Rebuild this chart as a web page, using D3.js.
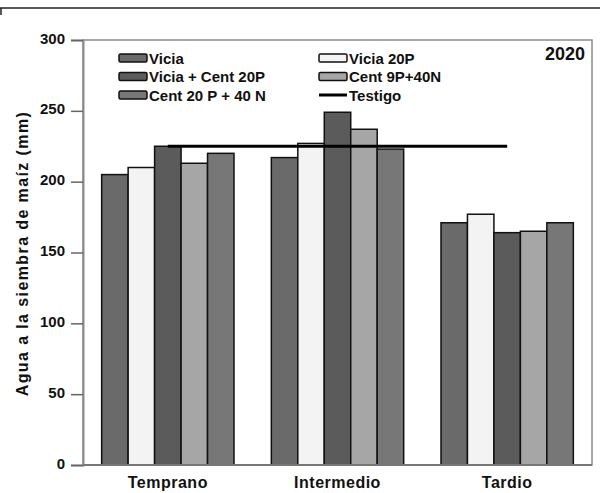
<!DOCTYPE html>
<html>
<head>
<meta charset="utf-8">
<script src="https://cdn.jsdelivr.net/npm/d3@7"></script>
<style>
  body { margin: 0; background: #fff; }
  svg { font-family: "Liberation Sans", Arial, sans-serif; font-weight: bold; }
</style>
</head>
<body>
<div id="chart"></div>
<script>
// Data (2020)
const categories = ["Temprano", "Intermedio", "Tardio"];
const series = ["Vicia", "Vicia 20P", "Vicia + Cent 20P", "Cent 9P+40N", "Cent 20 P + 40 N"];
const seriesColors = ["#6a6a6a", "#f3f3f3", "#5b5b5b", "#a6a6a6", "#777777"];
const values = {
	"Vicia": [205, 217, 171],
	"Vicia 20P": [210, 227, 177],
	"Vicia + Cent 20P": [225, 249, 164],
	"Cent 9P+40N": [213, 237, 165],
	"Cent 20 P + 40 N": [220, 223, 171],
};
const testigo = [225, 225, 225];
const yTicks = [0, 50, 100, 150, 200, 250, 300];

const width = 600, height = 493;
const margin = { top: 40, left: 83, right: 8, bottom: 28 };

const svg = d3.select("#chart").append("svg")
	.attr("width", width)
	.attr("height", height);

// frame line at the very top of the picture
svg.append("line")
	.attr("x1", 0).attr("x2", width)
	.attr("y1", 8).attr("y2", 8)
	.attr("stroke", "#222").attr("stroke-width", 1.5);
svg.append("line")
	.attr("x1", 1).attr("x2", 1)
	.attr("y1", 8).attr("y2", 15)
	.attr("stroke", "#222").attr("stroke-width", 1.5);

const x0 = d3.scaleBand()
	.domain(categories)
	.range([margin.left, width - margin.right])
	.paddingInner(0.22)
	.paddingOuter(0.11);

const x1 = d3.scaleBand()
	.domain(series)
	.range([0, x0.bandwidth()]);

const y = d3.scaleLinear()
	.domain([0, 300])
	.range([height - margin.bottom, margin.top]);

const color = d3.scaleOrdinal().domain(series).range(seriesColors);

// plot border
svg.append("rect")
	.attr("x", margin.left)
	.attr("y", margin.top)
	.attr("width", width - margin.left - margin.right)
	.attr("height", y(0) - margin.top)
	.attr("fill", "none")
	.attr("stroke", "#8c8c8c")
	.attr("stroke-width", 1.5);

// bars
const groups = svg.append("g")
	.selectAll("g")
	.data(categories)
	.join("g")
	.attr("transform", (d) => `translate(${x0(d)},0)`);

groups.selectAll("rect")
	.data((d, i) => series.map((s) => ({ key: s, value: values[s][i] })))
	.join("rect")
	.attr("x", (d) => x1(d.key))
	.attr("y", (d) => y(d.value))
	.attr("width", x1.bandwidth())
	.attr("height", (d) => y(0) - y(d.value))
	.attr("fill", (d) => color(d.key))
	.attr("stroke", "#111")
	.attr("stroke-width", 1.5);

// Testigo line
const line = d3.line()
	.x((d, i) => x0(categories[i]) + x0.bandwidth() / 2)
	.y((d) => y(d));
svg.append("path")
	.attr("d", line(testigo))
	.attr("fill", "none")
	.attr("stroke", "#000")
	.attr("stroke-width", 3);

// Y axis
const yAxis = svg.append("g")
	.attr("transform", `translate(${margin.left},0)`)
	.call(d3.axisLeft(y).tickValues(yTicks).tickSize(12).tickPadding(6));
yAxis.select(".domain").attr("stroke", "#8c8c8c").attr("stroke-width", 2);
yAxis.selectAll(".tick line").attr("stroke", "#666").attr("stroke-width", 1.5);
yAxis.selectAll("text")
	.attr("fill", "#111")
	.attr("dy", "0.2em")
	.style("font-size", "15px")
	.style("font-weight", "bold")
	.style("font-family", "Liberation Sans, Arial, sans-serif");

// bottom axis line and labels
svg.append("line")
	.attr("x1", margin.left).attr("x2", width - margin.right)
	.attr("y1", y(0)).attr("y2", y(0))
	.attr("stroke", "#777").attr("stroke-width", 2);

svg.append("g")
	.selectAll("text")
	.data(categories)
	.join("text")
	.attr("x", (d) => x0(d) + x0.bandwidth() / 2)
	.attr("y", y(0) + 23)
	.attr("text-anchor", "middle")
	.style("font-size", "16px")
	.style("letter-spacing", "0.5px")
	.attr("fill", "#111")
	.text((d) => d);

// Y title
svg.append("text")
	.attr("transform", `translate(28, ${(y(0) + margin.top) / 2 + 1}) rotate(-90)`)
	.attr("text-anchor", "middle")
	.style("font-size", "16px")
	.style("letter-spacing", "1.4px")
	.attr("fill", "#111")
	.text("Agua a la siembra de maíz (mm)");

// year label
svg.append("text")
	.attr("x", width - margin.right - 7)
	.attr("y", 60)
	.attr("text-anchor", "end")
	.style("font-size", "18px")
	.attr("fill", "#111")
	.text("2020");

// legend
const legendItems = [
	{ name: "Vicia", type: "bar" },
	{ name: "Vicia 20P", type: "bar" },
	{ name: "Vicia + Cent 20P", type: "bar" },
	{ name: "Cent 9P+40N", type: "bar" },
	{ name: "Cent 20 P + 40 N", type: "bar" },
	{ name: "Testigo", type: "line" },
];
const legend = svg.append("g")
	.selectAll("g")
	.data(legendItems)
	.join("g")
	.attr("transform", (d, i) => `translate(${i % 2 === 0 ? 119 : 319}, ${58 + Math.floor(i / 2) * 18.5})`);

legend.filter((d) => d.type === "bar")
	.append("rect")
	.attr("x", 0).attr("y", -4)
	.attr("width", 28).attr("height", 8)
	.attr("rx", 1.5)
	.attr("fill", (d) => color(d.name))
	.attr("stroke", "#111")
	.attr("stroke-width", 1.5);

legend.filter((d) => d.type === "line")
	.append("line")
	.attr("x1", 0).attr("x2", 28)
	.attr("y1", 0).attr("y2", 0)
	.attr("stroke", "#000")
	.attr("stroke-width", 3);

legend.append("text")
	.attr("x", 30)
	.attr("y", 5.5)
	.style("font-size", "15px")
	.attr("fill", "#111")
	.text((d) => d.name);
</script>
</body>
</html>
